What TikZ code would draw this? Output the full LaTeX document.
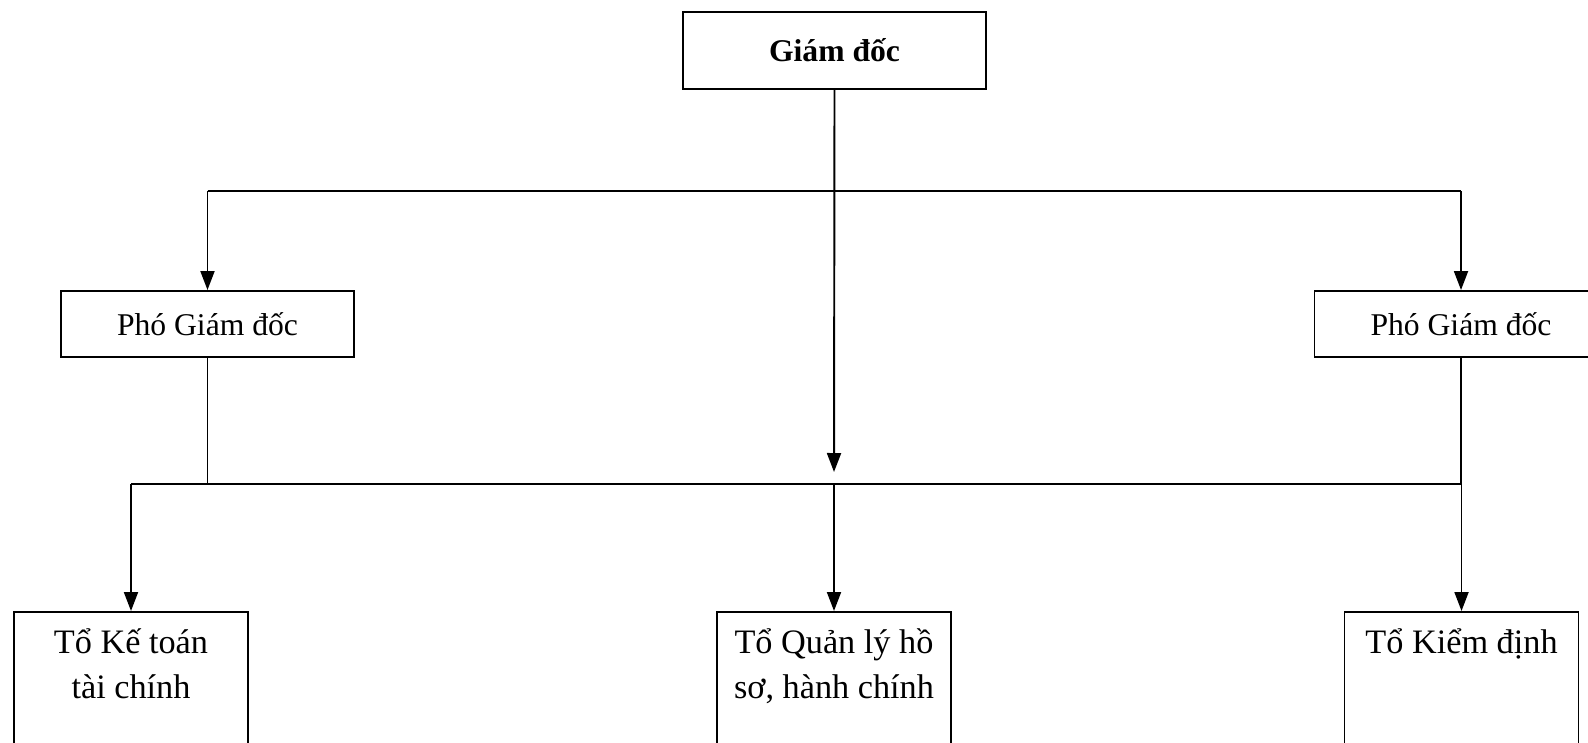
\documentclass[tikz,border=0pt]{standalone}
\usepackage{fontspec}
\setmainfont{Liberation Serif}
\usepackage{tikz}
\usetikzlibrary{arrows.meta}
\usetikzlibrary{positioning}
\tikzstyle{line} = [draw,line width=1.1pt]
\tikzstyle{edge} = [draw,line width=1.1pt,-{Triangle[length=0.38cm,width=0.28cm]}]
\tikzstyle{gdbox}=[rectangle,draw,line width=1.1pt,minimum width=6.06cm,minimum height=1.54cm,inner sep=0pt,font=\fontsize{18}{22}\selectfont\bfseries]
\tikzstyle{pgdbox}=[rectangle,draw,line width=1.1pt,minimum width=5.86cm,minimum height=1.32cm,inner sep=0pt,font=\fontsize{18}{22}\selectfont]
\tikzstyle{tobox}=[rectangle,draw,line width=1.1pt,anchor=north,minimum width=4.68cm,text height=0.5cm,text depth=3cm,inner xsep=0pt,inner ysep=0.34cm,font=\fontsize{19.5}{25.6}\selectfont]

\begin{document}
\begin{tikzpicture}

    \useasboundingbox (0,0) rectangle (31.76,-14.84);
    \clip (0,0) rectangle (31.76,-14.84);

    % top
    \node[gdbox] (gd) at (16.69,-1.01) {Giám đốc};

    % deputies
    \node[pgdbox] (pgdL) at (4.15,-6.48) {Phó Giám đốc};
    \node[pgdbox] (pgdR) at (29.22,-6.48) {Phó Giám đốc};

    % teams
    \foreach \x/\name/\label in {2.62/toKT/{Tổ Kế toán\\tài chính}, 16.68/toQL/{Tổ Quản lý hồ\\sơ, hành chính}, 29.23/toKD/{Tổ Kiểm định}}
        \node[tobox] (\name) at (\x,-12.22) {\begin{tabular}[t]{@{}c@{}}\label\end{tabular}};

    \coordinate (busT) at (16.68,-3.82);
    \coordinate (busB) at (16.68,-9.68);
    \coordinate (gdEnd) at (16.68,-9.44);

    \path[edge] (gd.south) -- (gdEnd);
    \path[line] (pgdL.north |- busT) -- (pgdR.north |- busT);
    \foreach \dest in {pgdL, pgdR}
        \path[edge] (\dest.north |- busT) -- (\dest.north);

    \foreach \source in {pgdL, pgdR}
        \path[line] (\source.south) -- (\source.south |- busB);
    \path[line] (toKT.north |- busB) -- (pgdR.south |- busB);
    \foreach \dest in {toKT, toQL, toKD}
        \path[edge] (\dest.north |- busB) -- (\dest.north);

\end{tikzpicture}
\end{document}
